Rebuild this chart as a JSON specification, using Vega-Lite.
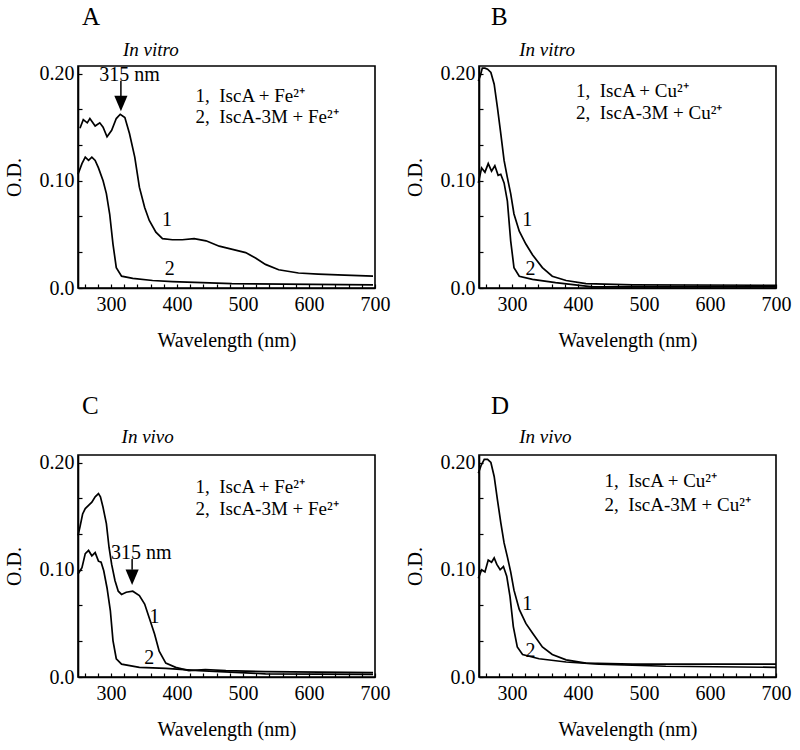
{
  "$schema": "https://vega.github.io/schema/vega-lite/v6.json",
  "background": "white",
  "padding": {"left": 3, "top": 4, "right": 5, "bottom": 5},
  "data": {"values": [
    {"panel":"A","kind":"line","curve":1,"nm":253,"od":0.149},{"panel":"A","kind":"line","curve":1,"nm":258,"od":0.157},{"panel":"A","kind":"line","curve":1,"nm":264,"od":0.154},{"panel":"A","kind":"line","curve":1,"nm":268,"od":0.158},{"panel":"A","kind":"line","curve":1,"nm":276,"od":0.151},{"panel":"A","kind":"line","curve":1,"nm":283,"od":0.154},{"panel":"A","kind":"line","curve":1,"nm":288,"od":0.150},{"panel":"A","kind":"line","curve":1,"nm":294,"od":0.141},{"panel":"A","kind":"line","curve":1,"nm":301,"od":0.147},{"panel":"A","kind":"line","curve":1,"nm":308,"od":0.158},{"panel":"A","kind":"line","curve":1,"nm":314,"od":0.162},{"panel":"A","kind":"line","curve":1,"nm":321,"od":0.159},{"panel":"A","kind":"line","curve":1,"nm":328,"od":0.144},{"panel":"A","kind":"line","curve":1,"nm":336,"od":0.122},{"panel":"A","kind":"line","curve":1,"nm":343,"od":0.094},{"panel":"A","kind":"line","curve":1,"nm":351,"od":0.075},{"panel":"A","kind":"line","curve":1,"nm":358,"od":0.063},{"panel":"A","kind":"line","curve":1,"nm":368,"od":0.052},{"panel":"A","kind":"line","curve":1,"nm":378,"od":0.046},{"panel":"A","kind":"line","curve":1,"nm":393,"od":0.045},{"panel":"A","kind":"line","curve":1,"nm":408,"od":0.045},{"panel":"A","kind":"line","curve":1,"nm":426,"od":0.046},{"panel":"A","kind":"line","curve":1,"nm":444,"od":0.044},{"panel":"A","kind":"line","curve":1,"nm":464,"od":0.039},{"panel":"A","kind":"line","curve":1,"nm":484,"od":0.036},{"panel":"A","kind":"line","curve":1,"nm":504,"od":0.033},{"panel":"A","kind":"line","curve":1,"nm":519,"od":0.028},{"panel":"A","kind":"line","curve":1,"nm":534,"od":0.022},{"panel":"A","kind":"line","curve":1,"nm":554,"od":0.017},{"panel":"A","kind":"line","curve":1,"nm":584,"od":0.014},{"panel":"A","kind":"line","curve":1,"nm":614,"od":0.013},{"panel":"A","kind":"line","curve":1,"nm":654,"od":0.012},{"panel":"A","kind":"line","curve":1,"nm":697,"od":0.011},
    {"panel":"A","kind":"line","curve":2,"nm":250,"od":0.106},{"panel":"A","kind":"line","curve":2,"nm":256,"od":0.116},{"panel":"A","kind":"line","curve":2,"nm":261,"od":0.122},{"panel":"A","kind":"line","curve":2,"nm":266,"od":0.119},{"panel":"A","kind":"line","curve":2,"nm":271,"od":0.122},{"panel":"A","kind":"line","curve":2,"nm":276,"od":0.119},{"panel":"A","kind":"line","curve":2,"nm":281,"od":0.112},{"panel":"A","kind":"line","curve":2,"nm":288,"od":0.100},{"panel":"A","kind":"line","curve":2,"nm":293,"od":0.088},{"panel":"A","kind":"line","curve":2,"nm":298,"od":0.069},{"panel":"A","kind":"line","curve":2,"nm":303,"od":0.041},{"panel":"A","kind":"line","curve":2,"nm":308,"od":0.019},{"panel":"A","kind":"line","curve":2,"nm":316,"od":0.011},{"panel":"A","kind":"line","curve":2,"nm":333,"od":0.009},{"panel":"A","kind":"line","curve":2,"nm":363,"od":0.007},{"panel":"A","kind":"line","curve":2,"nm":393,"od":0.006},{"panel":"A","kind":"line","curve":2,"nm":483,"od":0.004},{"panel":"A","kind":"line","curve":2,"nm":697,"od":0.003},
    {"panel":"B","kind":"line","curve":1,"nm":249,"od":0.193},{"panel":"B","kind":"line","curve":1,"nm":252,"od":0.198},{"panel":"B","kind":"line","curve":1,"nm":255,"od":0.205},{"panel":"B","kind":"line","curve":1,"nm":259,"od":0.205},{"panel":"B","kind":"line","curve":1,"nm":263,"od":0.204},{"panel":"B","kind":"line","curve":1,"nm":268,"od":0.201},{"panel":"B","kind":"line","curve":1,"nm":273,"od":0.190},{"panel":"B","kind":"line","curve":1,"nm":278,"od":0.168},{"panel":"B","kind":"line","curve":1,"nm":283,"od":0.144},{"panel":"B","kind":"line","curve":1,"nm":288,"od":0.119},{"panel":"B","kind":"line","curve":1,"nm":293,"od":0.103},{"panel":"B","kind":"line","curve":1,"nm":298,"od":0.088},{"panel":"B","kind":"line","curve":1,"nm":303,"od":0.069},{"panel":"B","kind":"line","curve":1,"nm":311,"od":0.053},{"panel":"B","kind":"line","curve":1,"nm":321,"od":0.041},{"panel":"B","kind":"line","curve":1,"nm":331,"od":0.031},{"panel":"B","kind":"line","curve":1,"nm":346,"od":0.019},{"panel":"B","kind":"line","curve":1,"nm":361,"od":0.011},{"panel":"B","kind":"line","curve":1,"nm":382,"od":0.007},{"panel":"B","kind":"line","curve":1,"nm":412,"od":0.004},{"panel":"B","kind":"line","curve":1,"nm":483,"od":0.003},{"panel":"B","kind":"line","curve":1,"nm":700,"od":0.0025},
    {"panel":"B","kind":"line","curve":2,"nm":249,"od":0.098},{"panel":"B","kind":"line","curve":2,"nm":254,"od":0.112},{"panel":"B","kind":"line","curve":2,"nm":259,"od":0.108},{"panel":"B","kind":"line","curve":2,"nm":264,"od":0.116},{"panel":"B","kind":"line","curve":2,"nm":269,"od":0.109},{"panel":"B","kind":"line","curve":2,"nm":274,"od":0.114},{"panel":"B","kind":"line","curve":2,"nm":279,"od":0.105},{"panel":"B","kind":"line","curve":2,"nm":283,"od":0.106},{"panel":"B","kind":"line","curve":2,"nm":288,"od":0.098},{"panel":"B","kind":"line","curve":2,"nm":293,"od":0.081},{"panel":"B","kind":"line","curve":2,"nm":298,"od":0.044},{"panel":"B","kind":"line","curve":2,"nm":303,"od":0.019},{"panel":"B","kind":"line","curve":2,"nm":311,"od":0.011},{"panel":"B","kind":"line","curve":2,"nm":331,"od":0.008},{"panel":"B","kind":"line","curve":2,"nm":366,"od":0.005},{"panel":"B","kind":"line","curve":2,"nm":422,"od":0.001},{"panel":"B","kind":"line","curve":2,"nm":700,"od":0.001},
    {"panel":"C","kind":"line","curve":1,"nm":250,"od":0.132},{"panel":"C","kind":"line","curve":1,"nm":253,"od":0.140},{"panel":"C","kind":"line","curve":1,"nm":257,"od":0.152},{"panel":"C","kind":"line","curve":1,"nm":261,"od":0.157},{"panel":"C","kind":"line","curve":1,"nm":266,"od":0.160},{"panel":"C","kind":"line","curve":1,"nm":271,"od":0.163},{"panel":"C","kind":"line","curve":1,"nm":276,"od":0.168},{"panel":"C","kind":"line","curve":1,"nm":281,"od":0.171},{"panel":"C","kind":"line","curve":1,"nm":284,"od":0.168},{"panel":"C","kind":"line","curve":1,"nm":288,"od":0.158},{"panel":"C","kind":"line","curve":1,"nm":293,"od":0.143},{"panel":"C","kind":"line","curve":1,"nm":297,"od":0.121},{"panel":"C","kind":"line","curve":1,"nm":301,"od":0.105},{"panel":"C","kind":"line","curve":1,"nm":306,"od":0.090},{"panel":"C","kind":"line","curve":1,"nm":311,"od":0.080},{"panel":"C","kind":"line","curve":1,"nm":316,"od":0.077},{"panel":"C","kind":"line","curve":1,"nm":323,"od":0.079},{"panel":"C","kind":"line","curve":1,"nm":333,"od":0.080},{"panel":"C","kind":"line","curve":1,"nm":343,"od":0.076},{"panel":"C","kind":"line","curve":1,"nm":351,"od":0.068},{"panel":"C","kind":"line","curve":1,"nm":358,"od":0.055},{"panel":"C","kind":"line","curve":1,"nm":366,"od":0.040},{"panel":"C","kind":"line","curve":1,"nm":373,"od":0.024},{"panel":"C","kind":"line","curve":1,"nm":383,"od":0.013},{"panel":"C","kind":"line","curve":1,"nm":398,"od":0.009},{"panel":"C","kind":"line","curve":1,"nm":418,"od":0.006},{"panel":"C","kind":"line","curve":1,"nm":443,"od":0.007},{"panel":"C","kind":"line","curve":1,"nm":474,"od":0.006},{"panel":"C","kind":"line","curve":1,"nm":534,"od":0.005},{"panel":"C","kind":"line","curve":1,"nm":697,"od":0.004},
    {"panel":"C","kind":"line","curve":2,"nm":250,"od":0.096},{"panel":"C","kind":"line","curve":2,"nm":256,"od":0.102},{"panel":"C","kind":"line","curve":2,"nm":261,"od":0.115},{"panel":"C","kind":"line","curve":2,"nm":266,"od":0.118},{"panel":"C","kind":"line","curve":2,"nm":271,"od":0.113},{"panel":"C","kind":"line","curve":2,"nm":276,"od":0.116},{"panel":"C","kind":"line","curve":2,"nm":281,"od":0.108},{"panel":"C","kind":"line","curve":2,"nm":285,"od":0.107},{"panel":"C","kind":"line","curve":2,"nm":289,"od":0.099},{"panel":"C","kind":"line","curve":2,"nm":294,"od":0.083},{"panel":"C","kind":"line","curve":2,"nm":299,"od":0.062},{"panel":"C","kind":"line","curve":2,"nm":303,"od":0.034},{"panel":"C","kind":"line","curve":2,"nm":308,"od":0.017},{"panel":"C","kind":"line","curve":2,"nm":316,"od":0.012},{"panel":"C","kind":"line","curve":2,"nm":343,"od":0.009},{"panel":"C","kind":"line","curve":2,"nm":383,"od":0.008},{"panel":"C","kind":"line","curve":2,"nm":433,"od":0.006},{"panel":"C","kind":"line","curve":2,"nm":534,"od":0.003},{"panel":"C","kind":"line","curve":2,"nm":697,"od":0.0025},
    {"panel":"D","kind":"line","curve":1,"nm":249,"od":0.190},{"panel":"D","kind":"line","curve":1,"nm":253,"od":0.197},{"panel":"D","kind":"line","curve":1,"nm":258,"od":0.203},{"panel":"D","kind":"line","curve":1,"nm":263,"od":0.203},{"panel":"D","kind":"line","curve":1,"nm":268,"od":0.200},{"panel":"D","kind":"line","curve":1,"nm":273,"od":0.187},{"panel":"D","kind":"line","curve":1,"nm":278,"od":0.165},{"panel":"D","kind":"line","curve":1,"nm":283,"od":0.144},{"panel":"D","kind":"line","curve":1,"nm":288,"od":0.125},{"panel":"D","kind":"line","curve":1,"nm":293,"od":0.112},{"panel":"D","kind":"line","curve":1,"nm":298,"od":0.098},{"panel":"D","kind":"line","curve":1,"nm":303,"od":0.081},{"panel":"D","kind":"line","curve":1,"nm":311,"od":0.063},{"panel":"D","kind":"line","curve":1,"nm":321,"od":0.050},{"panel":"D","kind":"line","curve":1,"nm":331,"od":0.041},{"panel":"D","kind":"line","curve":1,"nm":346,"od":0.028},{"panel":"D","kind":"line","curve":1,"nm":361,"od":0.021},{"panel":"D","kind":"line","curve":1,"nm":382,"od":0.016},{"panel":"D","kind":"line","curve":1,"nm":412,"od":0.013},{"panel":"D","kind":"line","curve":1,"nm":483,"od":0.012},{"panel":"D","kind":"line","curve":1,"nm":700,"od":0.012},
    {"panel":"D","kind":"line","curve":2,"nm":249,"od":0.092},{"panel":"D","kind":"line","curve":2,"nm":254,"od":0.100},{"panel":"D","kind":"line","curve":2,"nm":259,"od":0.098},{"panel":"D","kind":"line","curve":2,"nm":264,"od":0.109},{"panel":"D","kind":"line","curve":2,"nm":269,"od":0.107},{"panel":"D","kind":"line","curve":2,"nm":273,"od":0.111},{"panel":"D","kind":"line","curve":2,"nm":277,"od":0.105},{"panel":"D","kind":"line","curve":2,"nm":282,"od":0.100},{"panel":"D","kind":"line","curve":2,"nm":287,"od":0.103},{"panel":"D","kind":"line","curve":2,"nm":292,"od":0.094},{"panel":"D","kind":"line","curve":2,"nm":297,"od":0.075},{"panel":"D","kind":"line","curve":2,"nm":302,"od":0.047},{"panel":"D","kind":"line","curve":2,"nm":308,"od":0.028},{"panel":"D","kind":"line","curve":2,"nm":316,"od":0.021},{"panel":"D","kind":"line","curve":2,"nm":341,"od":0.017},{"panel":"D","kind":"line","curve":2,"nm":382,"od":0.014},{"panel":"D","kind":"line","curve":2,"nm":432,"od":0.012},{"panel":"D","kind":"line","curve":2,"nm":533,"od":0.010},{"panel":"D","kind":"line","curve":2,"nm":700,"od":0.009},
    {"panel":"A","kind":"num","nm":385,"od":0.063,"text":"1"},{"panel":"A","kind":"num","nm":389,"od":0.018,"text":"2"},
    {"panel":"B","kind":"num","nm":323,"od":0.063,"text":"1"},{"panel":"B","kind":"num","nm":328,"od":0.018,"text":"2"},
    {"panel":"C","kind":"num","nm":366,"od":0.056,"text":"1"},{"panel":"C","kind":"num","nm":358,"od":0.018,"text":"2"},
    {"panel":"D","kind":"num","nm":323,"od":0.068,"text":"1"},{"panel":"D","kind":"num","nm":328,"od":0.024,"text":"2"},
    {"panel":"A","kind":"legend","nm":428,"od":0.179,"text":"1,\u00a0 IscA + Fe²⁺"},{"panel":"A","kind":"legend","nm":428,"od":0.159,"text":"2,\u00a0 IscA-3M + Fe²⁺"},
    {"panel":"B","kind":"legend","nm":397,"od":0.184,"text":"1,\u00a0 IscA + Cu²⁺"},{"panel":"B","kind":"legend","nm":397,"od":0.163,"text":"2,\u00a0 IscA-3M + Cu²⁺"},
    {"panel":"C","kind":"legend","nm":428,"od":0.177,"text":"1,\u00a0 IscA + Fe²⁺"},{"panel":"C","kind":"legend","nm":428,"od":0.157,"text":"2,\u00a0 IscA-3M + Fe²⁺"},
    {"panel":"D","kind":"legend","nm":440,"od":0.183,"text":"1,\u00a0 IscA + Cu²⁺"},{"panel":"D","kind":"legend","nm":440,"od":0.160,"text":"2,\u00a0 IscA-3M + Cu²⁺"},
    {"panel":"A","kind":"letter","nm":256,"od":0.245,"text":"A"},{"panel":"B","kind":"letter","nm":268,"od":0.245,"text":"B"},
    {"panel":"C","kind":"letter","nm":256,"od":0.245,"text":"C"},{"panel":"D","kind":"letter","nm":268,"od":0.245,"text":"D"},
    {"panel":"A","kind":"cond","nm":318,"od":0.222,"text":"In vitro"},{"panel":"B","kind":"cond","nm":311,"od":0.222,"text":"In vitro"},
    {"panel":"C","kind":"cond","nm":316,"od":0.224,"text":"In vivo"},{"panel":"D","kind":"cond","nm":311,"od":0.224,"text":"In vivo"},
    {"panel":"A","kind":"ann","nm":328,"od":0.199,"text":"315 nm"},{"panel":"C","kind":"ann","nm":346,"od":0.116,"text":"315 nm"},
    {"panel":"A","kind":"arrow","nm":315,"od":0.193,"od2":0.178},{"panel":"C","kind":"arrow","nm":332,"od":0.110,"od2":0.100},
    {"panel":"A","kind":"head","nm":315,"od":0.172},{"panel":"C","kind":"head","nm":332,"od":0.093}
  ]},
  "facet": {"field": "panel", "type": "nominal", "header": {"title": null, "labels": false, "labelFontSize": 0, "labelPadding": 0}},
  "columns": 2,
  "spacing": {"row": 167, "column": 104},
  "bounds": "flush",
  "resolve": {"axis": {"x": "independent", "y": "independent"}},
  "spec": {
    "width": 297,
    "height": 222,
    "encoding": {
      "x": {"field": "nm", "type": "quantitative",
            "scale": {"domain": [250, 700], "nice": false, "zero": false},
            "axis": {"title": "Wavelength (nm)", "values": [260,280,300,320,340,360,380,400,420,440,460,480,500,520,540,560,580,600,620,640,660,680,700],
                     "labelExpr": "datum.value % 100 == 0 ? toString(datum.value) : ''", "labelPadding": 10, "titlePadding": 16}},
      "y": {"field": "od", "type": "quantitative",
            "scale": {"domain": [0, 0.207], "nice": false, "zero": false},
            "axis": {"title": "O.D.", "values": [0, 0.0333, 0.0667, 0.1, 0.1333, 0.1667, 0.2],
                     "labelExpr": "datum.value < 0.001 ? '0.0' : abs(datum.value - 0.1) < 0.001 ? '0.10' : abs(datum.value - 0.2) < 0.001 ? '0.20' : ''",
                     "labelPadding": 8, "titlePadding": 15}}
    },
    "layer": [
      {"transform": [{"filter": "datum.kind == 'line'"}],
       "mark": {"type": "line", "color": "black", "strokeWidth": 1.7},
       "encoding": {"detail": {"field": "curve", "type": "nominal"}}},
      {"transform": [{"filter": "datum.kind == 'num'"}],
       "mark": {"type": "text", "font": "Liberation Serif", "fontSize": 20, "align": "center", "baseline": "middle", "color": "black"},
       "encoding": {"text": {"field": "text"}}},
      {"transform": [{"filter": "datum.kind == 'legend'"}],
       "mark": {"type": "text", "font": "Liberation Serif", "fontSize": 19, "align": "left", "baseline": "middle", "color": "black"},
       "encoding": {"text": {"field": "text"}}},
      {"transform": [{"filter": "datum.kind == 'ann'"}],
       "mark": {"type": "text", "font": "Liberation Serif", "fontSize": 20, "align": "center", "baseline": "middle", "color": "black"},
       "encoding": {"text": {"field": "text"}}},
      {"transform": [{"filter": "datum.kind == 'letter'"}],
       "mark": {"type": "text", "font": "Liberation Serif", "fontSize": 25, "align": "left", "baseline": "alphabetic", "color": "black"},
       "encoding": {"text": {"field": "text"}}},
      {"transform": [{"filter": "datum.kind == 'cond'"}],
       "mark": {"type": "text", "font": "Liberation Serif", "fontSize": 19, "fontStyle": "italic", "align": "left", "baseline": "middle", "color": "black"},
       "encoding": {"text": {"field": "text"}}},
      {"transform": [{"filter": "datum.kind == 'arrow'"}],
       "mark": {"type": "rule", "color": "black", "strokeWidth": 1.5},
       "encoding": {"y2": {"field": "od2"}}},
      {"transform": [{"filter": "datum.kind == 'head'"}],
       "mark": {"type": "point", "shape": "M-0.85,-1L0.85,-1L0,1Z", "size": 240, "filled": true, "color": "black", "opacity": 1},
       "encoding": {}}
    ]
  },
  "config": {
    "font": "Liberation Serif",
    "view": {"stroke": "black", "strokeWidth": 1.6},
    "axis": {"domainColor": "black", "domainWidth": 1.6, "tickColor": "black", "tickWidth": 1.2, "tickSize": -4, "labelFlush": false,
             "labelFont": "Liberation Serif", "labelFontSize": 20, "labelColor": "black", "labelOverlap": false,
             "titleFont": "Liberation Serif", "titleFontSize": 20, "titleFontWeight": "normal", "titleColor": "black", "grid": false}
  }
}
